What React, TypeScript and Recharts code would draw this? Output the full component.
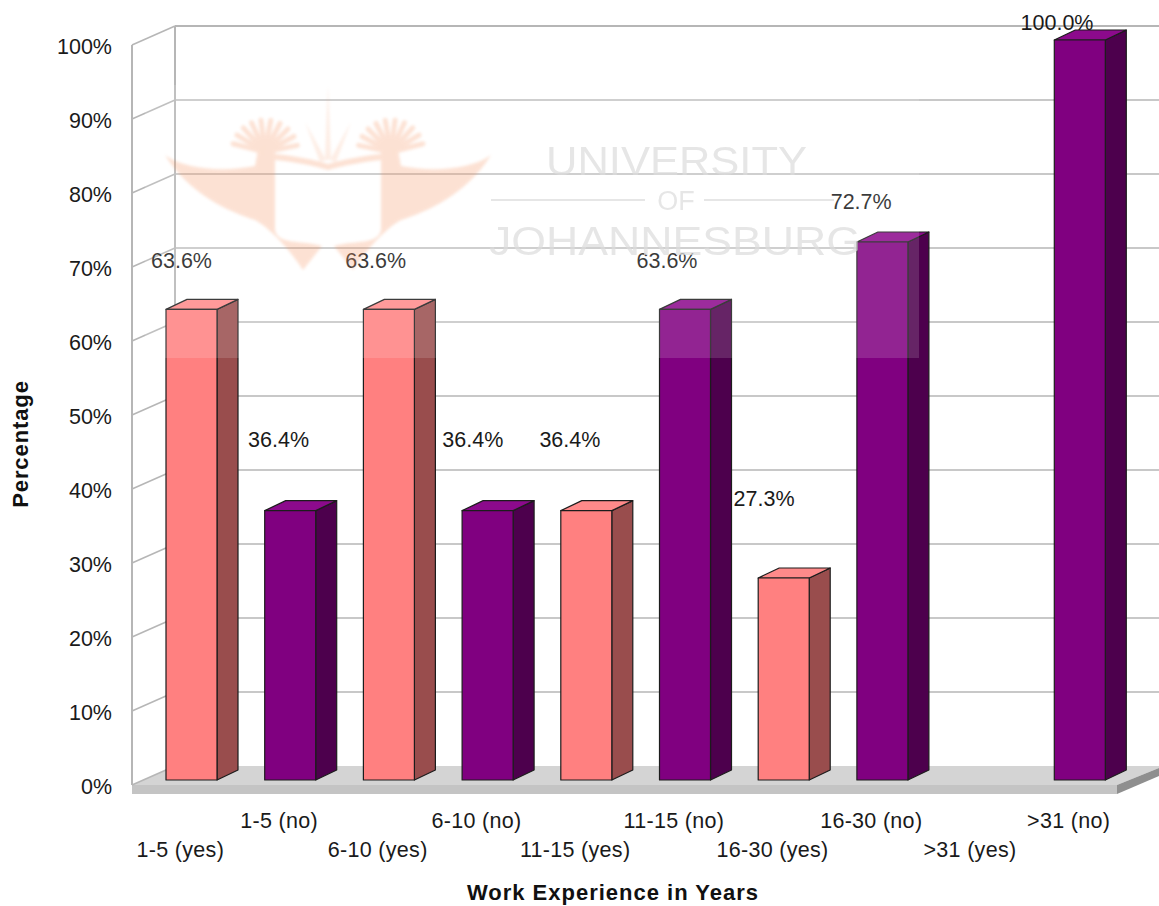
import React from "react";
import { BarChart, Bar, XAxis, YAxis, CartesianGrid, Cell, LabelList } from "recharts";

// Survey shares by work experience, split by yes / no answer.
const categories = [
  "1-5 (yes)", "1-5 (no)", "6-10 (yes)", "6-10 (no)", "11-15 (yes)",
  "11-15 (no)", "16-30 (yes)", "16-30 (no)", ">31 (yes)", ">31 (no)",
];
const percentages: (number | null)[] = [63.6, 36.4, 63.6, 36.4, 36.4, 63.6, 27.3, 72.7, null, 100];
const answers = ["yes", "no", "yes", "no", "yes", "no", "yes", "no", "yes", "no"];
const percentTicks = [0, 10, 20, 30, 40, 50, 60, 70, 80, 90, 100];

const rows = categories.map((category, i) => ({ category, value: percentages[i], answer: answers[i] }));

const FONT = "'Liberation Sans', Arial, sans-serif";
const WIDTH = 1159;
const HEIGHT = 906;
const PLOT_TOP = 40;
const PLOT_BOTTOM = 780;
const DEPTH_X = 21;
const DEPTH_Y = 10;
const WALL_LEFT = 132;
const WALL_BACK = 175;
const LINE = "#b6b6b6";
const INK = "#1a1a1a";

const palette: Record<string, { front: string; side: string; top: string }> = {
  yes: { front: "#ff8080", side: "#994d4d", top: "#ff8a8a" },
  no: { front: "#800080", side: "#4d004d", top: "#8c0a8c" },
};

// Back-wall gridline, its return along the side wall, and the floor slab at zero.
function wallLine(props: any) {
  const y = props.y1;
  const isBottom = Math.abs(y - PLOT_BOTTOM) < 0.5;
  const isTop = Math.abs(y - PLOT_TOP) < 0.5;
  const backY = y - 14;
  const frontY = y + 5;
  return (
    <g key={`wall-${y}`}>
      {isBottom && (
        <g>
          <polygon points={`${WALL_LEFT},${frontY} ${WALL_BACK},${backY} ${WIDTH},${backY} ${WIDTH},768 1117,${frontY}`} fill="#d4d4d4" />
          <rect x={WALL_LEFT} y={frontY} width={1117 - WALL_LEFT} height={9} fill="#c4c4c4" />
          <polygon points={`1117,${frontY} ${WIDTH},768 ${WIDTH},776 1117,${frontY + 9}`} fill="#8f8f8f" />
        </g>
      )}
      {isTop && (
        <g stroke={LINE} strokeWidth={2}>
          <line x1={WALL_LEFT} y1={frontY} x2={WALL_LEFT} y2={PLOT_BOTTOM + 5} />
          <line x1={WALL_BACK} y1={backY} x2={WALL_BACK} y2={PLOT_BOTTOM - 14} />
        </g>
      )}
      <line x1={WALL_LEFT} y1={frontY} x2={WALL_BACK} y2={backY} stroke={LINE} strokeWidth={1.5} />
      {!isBottom && <line x1={WALL_BACK} y1={backY} x2={WIDTH} y2={backY} stroke={LINE} strokeWidth={isTop ? 2 : 1.5} />}
    </g>
  );
}

// Box-shaped column: side and top faces behind the front face.
function boxBar(props: any) {
  const { x, y, width, height, answer } = props;
  if (!height || height <= 0) return <g />;
  const c = palette[answer];
  const r = x + width;
  const b = y + height;
  return (
    <g stroke="#1c1c1c" strokeWidth={1.2} strokeLinejoin="round">
      <polygon points={`${r},${y} ${r + DEPTH_X},${y - DEPTH_Y} ${r + DEPTH_X},${b - DEPTH_Y} ${r},${b}`} fill={c.side} />
      <polygon points={`${x},${y} ${x + DEPTH_X},${y - DEPTH_Y} ${r + DEPTH_X},${y - DEPTH_Y} ${r},${y}`} fill={c.top} />
      <rect x={x} y={y} width={width} height={height} fill={c.front} />
    </g>
  );
}

// Value captions sit on their own compressed scale, drifting left along the axis.
function valueCaption(props: any) {
  const { x, width, value, index } = props;
  if (value == null) return null;
  const cx = x + width / 2 - 10 - 1.6 * index;
  const cy = 23 + (100 - value) * 6.55;
  return (
    <text x={cx} y={cy + 7} textAnchor="middle" fontFamily={FONT} fontSize={21.5} fill={INK}>
      {`${value.toFixed(1)}%`}
    </text>
  );
}

function percentTick(props: any) {
  const { y, payload } = props;
  return (
    <text x={112} y={y + 14} textAnchor="end" fontFamily={FONT} fontSize={21.5} fill={INK}>
      {`${payload.value}%`}
    </text>
  );
}

// Category names alternate between two rows to avoid collisions.
function categoryTick(props: any) {
  const { x, payload, index } = props;
  const rowY = index % 2 === 0 ? 857 : 828;
  return (
    <text x={x - 11} y={rowY} textAnchor="middle" fontFamily={FONT} fontSize={21.5} letterSpacing={0.3} fill={INK}>
      {payload.value}
    </text>
  );
}

function xTitle() {
  return (
    <text x={613} y={900} textAnchor="middle" fontFamily={FONT} fontSize={22} fontWeight={700} letterSpacing={1} fill="#111">
      Work Experience in Years
    </text>
  );
}

function yTitle() {
  return (
    <text x={28} y={444} transform="rotate(-90 28 444)" textAnchor="middle" fontFamily={FONT} fontSize={22} fontWeight={700} letterSpacing={0.9} fill="#111">
      Percentage
    </text>
  );
}

const featherAngles = [-165, -148, -131, -114, -97, -80, -63, -46, -29, -12];

function Bird() {
  return (
    <g>
      <path
        d="M165 155 C185 170 225 172 255 166 L258 150 L275 150 L275 230 C278 245 300 240 322 246 L303 270 C290 250 270 228 255 220 C230 212 190 195 165 155 Z"
        fill="#f58a52"
      />
      {featherAngles.map((a) => (
        <line
          key={a}
          x1={265}
          y1={152}
          x2={265 + 33 * Math.cos((a * Math.PI) / 180)}
          y2={152 + 32 * Math.sin((a * Math.PI) / 180)}
          stroke="#f58a52"
          strokeWidth={5}
          strokeLinecap="round"
        />
      ))}
    </g>
  );
}

// University crest and wordmark laid over the plot as a faint wash.
function Watermark() {
  return (
    <svg width={WIDTH} height={HEIGHT} style={{ position: "absolute", left: 0, top: 0, pointerEvents: "none" }}>
      <defs>
        <filter id="crest-soft" x="-10%" y="-10%" width="120%" height="120%">
          <feGaussianBlur stdDeviation="1.6" />
        </filter>
        <filter id="word-soft" x="-5%" y="-5%" width="110%" height="110%">
          <feGaussianBlur stdDeviation="0.6" />
        </filter>
      </defs>
      <rect x={145} y={85} width={774} height={273} fill="#ffffff" opacity={0.14} />
      <g opacity={0.25} filter="url(#crest-soft)">
        <Bird />
        <g transform="matrix(-1 0 0 1 656 0)">
          <Bird />
        </g>
        <path d="M275 160 C295 162 315 166 328 170 C342 166 362 162 381 160 L381 154 C362 156 342 160 328 164 C315 160 295 156 275 154 Z" fill="#f58a52" />
        <path d="M328 85 L331 160 L325 160 Z M305 122 L326 160 L320 162 Z M351 122 L330 160 L336 162 Z" fill="#f58a52" opacity={0.6} />
      </g>
      <g fill="#dcdcdc" opacity={0.7} fontFamily={FONT} filter="url(#word-soft)">
        <text x={546} y={175} fontSize={41} textLength={261} lengthAdjust="spacingAndGlyphs">UNIVERSITY</text>
        <text x={676} y={210} fontSize={27} textAnchor="middle">OF</text>
        <text x={489} y={255} fontSize={41} textLength={372} lengthAdjust="spacingAndGlyphs">JOHANNESBURG</text>
        <rect x={491} y={199} width={154} height={2} />
        <rect x={704} y={199} width={130} height={2} />
      </g>
    </svg>
  );
}

export default function App() {
  return (
    <div style={{ position: "absolute", left: 0, top: 0, width: WIDTH, height: HEIGHT, background: "#fff", overflow: "hidden" }}>
      <BarChart
        width={WIDTH}
        height={HEIGHT}
        data={rows}
        barSize={51}
        margin={{ top: PLOT_TOP, right: 30, bottom: 0, left: 0 }}
      >
        <CartesianGrid vertical={false} horizontal={wallLine} />
        <XAxis
          dataKey="category"
          interval={0}
          height={HEIGHT - PLOT_BOTTOM}
          axisLine={false}
          tickLine={false}
          tick={categoryTick}
          label={xTitle}
        />
        <YAxis
          domain={[0, 100]}
          ticks={percentTicks}
          width={142}
          axisLine={false}
          tickLine={false}
          tick={percentTick}
          label={yTitle}
        />
        <Bar dataKey="value" isAnimationActive={false} shape={boxBar}>
          {rows.map((r) => (
            <Cell key={r.category} fill={palette[r.answer].front} />
          ))}
          <LabelList dataKey="value" content={valueCaption} />
        </Bar>
      </BarChart>
      <Watermark />
    </div>
  );
}
